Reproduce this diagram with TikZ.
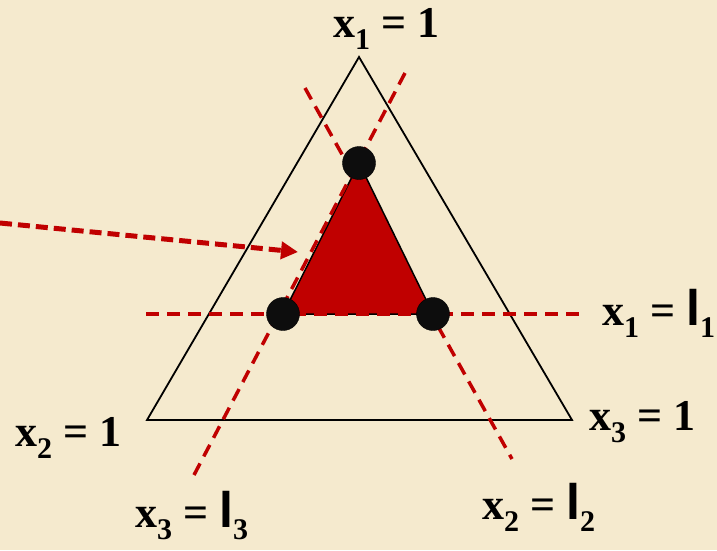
\documentclass[tikz,border=0pt]{standalone}
\usepackage{fontspec}
\setmainfont{Liberation Serif}
\newfontfamily\barfont{Liberation Sans}
\usetikzlibrary{arrows.meta}
\definecolor{parch}{RGB}{245,234,206}
\definecolor{dred}{RGB}{192,0,0}
\newcommand\xsub[1]{\raisebox{-12pt}{\fontsize{30}{30}\selectfont #1}}
\newcommand\xlabel[2]{x\xsub{#1}\hspace{11pt}=\hspace{11pt}#2}
\newcommand\lbar{{\barfont\fontsize{50}{50}\selectfont l}}
\tikzset{
  lbl/.style={anchor=base west, inner sep=0pt, font=\bfseries\fontsize{44}{44}\selectfont},
  cutline/.style={draw=dred, line width=3.5pt, dash pattern=on 13pt off 8pt},
  outer/.style={draw=black, line width=1.8pt, line join=miter},
  region/.style={fill=dred, draw=black, line width=1.5pt},
  vdot/.style={circle, fill=black!95, draw=black, minimum size=33pt, inner sep=0pt},
  pointer/.style={draw=dred, line width=5pt, dash pattern=on 12pt off 6pt, -{Triangle[length=17pt,width=17pt]}}
}
\begin{document}
\begin{tikzpicture}[x=1pt,y=-1pt]
\fill[parch] (0,0) rectangle (717,550);
\useasboundingbox (0,0) rectangle (717,550);
% outer simplex
\coordinate (A) at (359,57);
\coordinate (B) at (147,420);
\coordinate (C) at (572,420);
\draw[outer] (A) -- (B) -- (C) -- cycle;
% feasible region
\coordinate (P) at (359,163);
\coordinate (Q) at (283,314);
\coordinate (R) at (433,314);
\path[region] (P) -- (Q) -- (R) -- cycle;
% cutting lines
\coordinate (h1) at (146,314);
\coordinate (h2) at (585,314);
\coordinate (u1) at (305,88);
\coordinate (u2) at (512,459);
\coordinate (w1) at (405,73);
\coordinate (w2) at (194,475);
\draw[cutline] (h1) -- (h2);
\draw[cutline] (u1) -- (u2);
\draw[cutline] (w1) -- (w2);
% pointer
\coordinate (s) at (0,223);
\coordinate (t) at (298,252);
\draw[pointer] (s) -- (t);
% vertices
\node[vdot] (dP) at (P) {};
\node[vdot] (dQ) at (Q) {};
\node[vdot] (dR) at (R) {};
% labels
\node[lbl] (l1) at (333,37) {\xlabel{1}{1}};
\node[lbl] (l2) at (15,446) {\xlabel{2}{1}};
\node[lbl] (l3) at (589,430) {\xlabel{3}{1}};
\node[lbl] (m1) at (602,325) {\xlabel{1}{\lbar\xsub{1}}};
\node[lbl] (m2) at (482,519) {\xlabel{2}{\lbar\xsub{2}}};
\node[lbl] (m3) at (135,527) {\xlabel{3}{\lbar\xsub{3}}};
\end{tikzpicture}
\end{document}
